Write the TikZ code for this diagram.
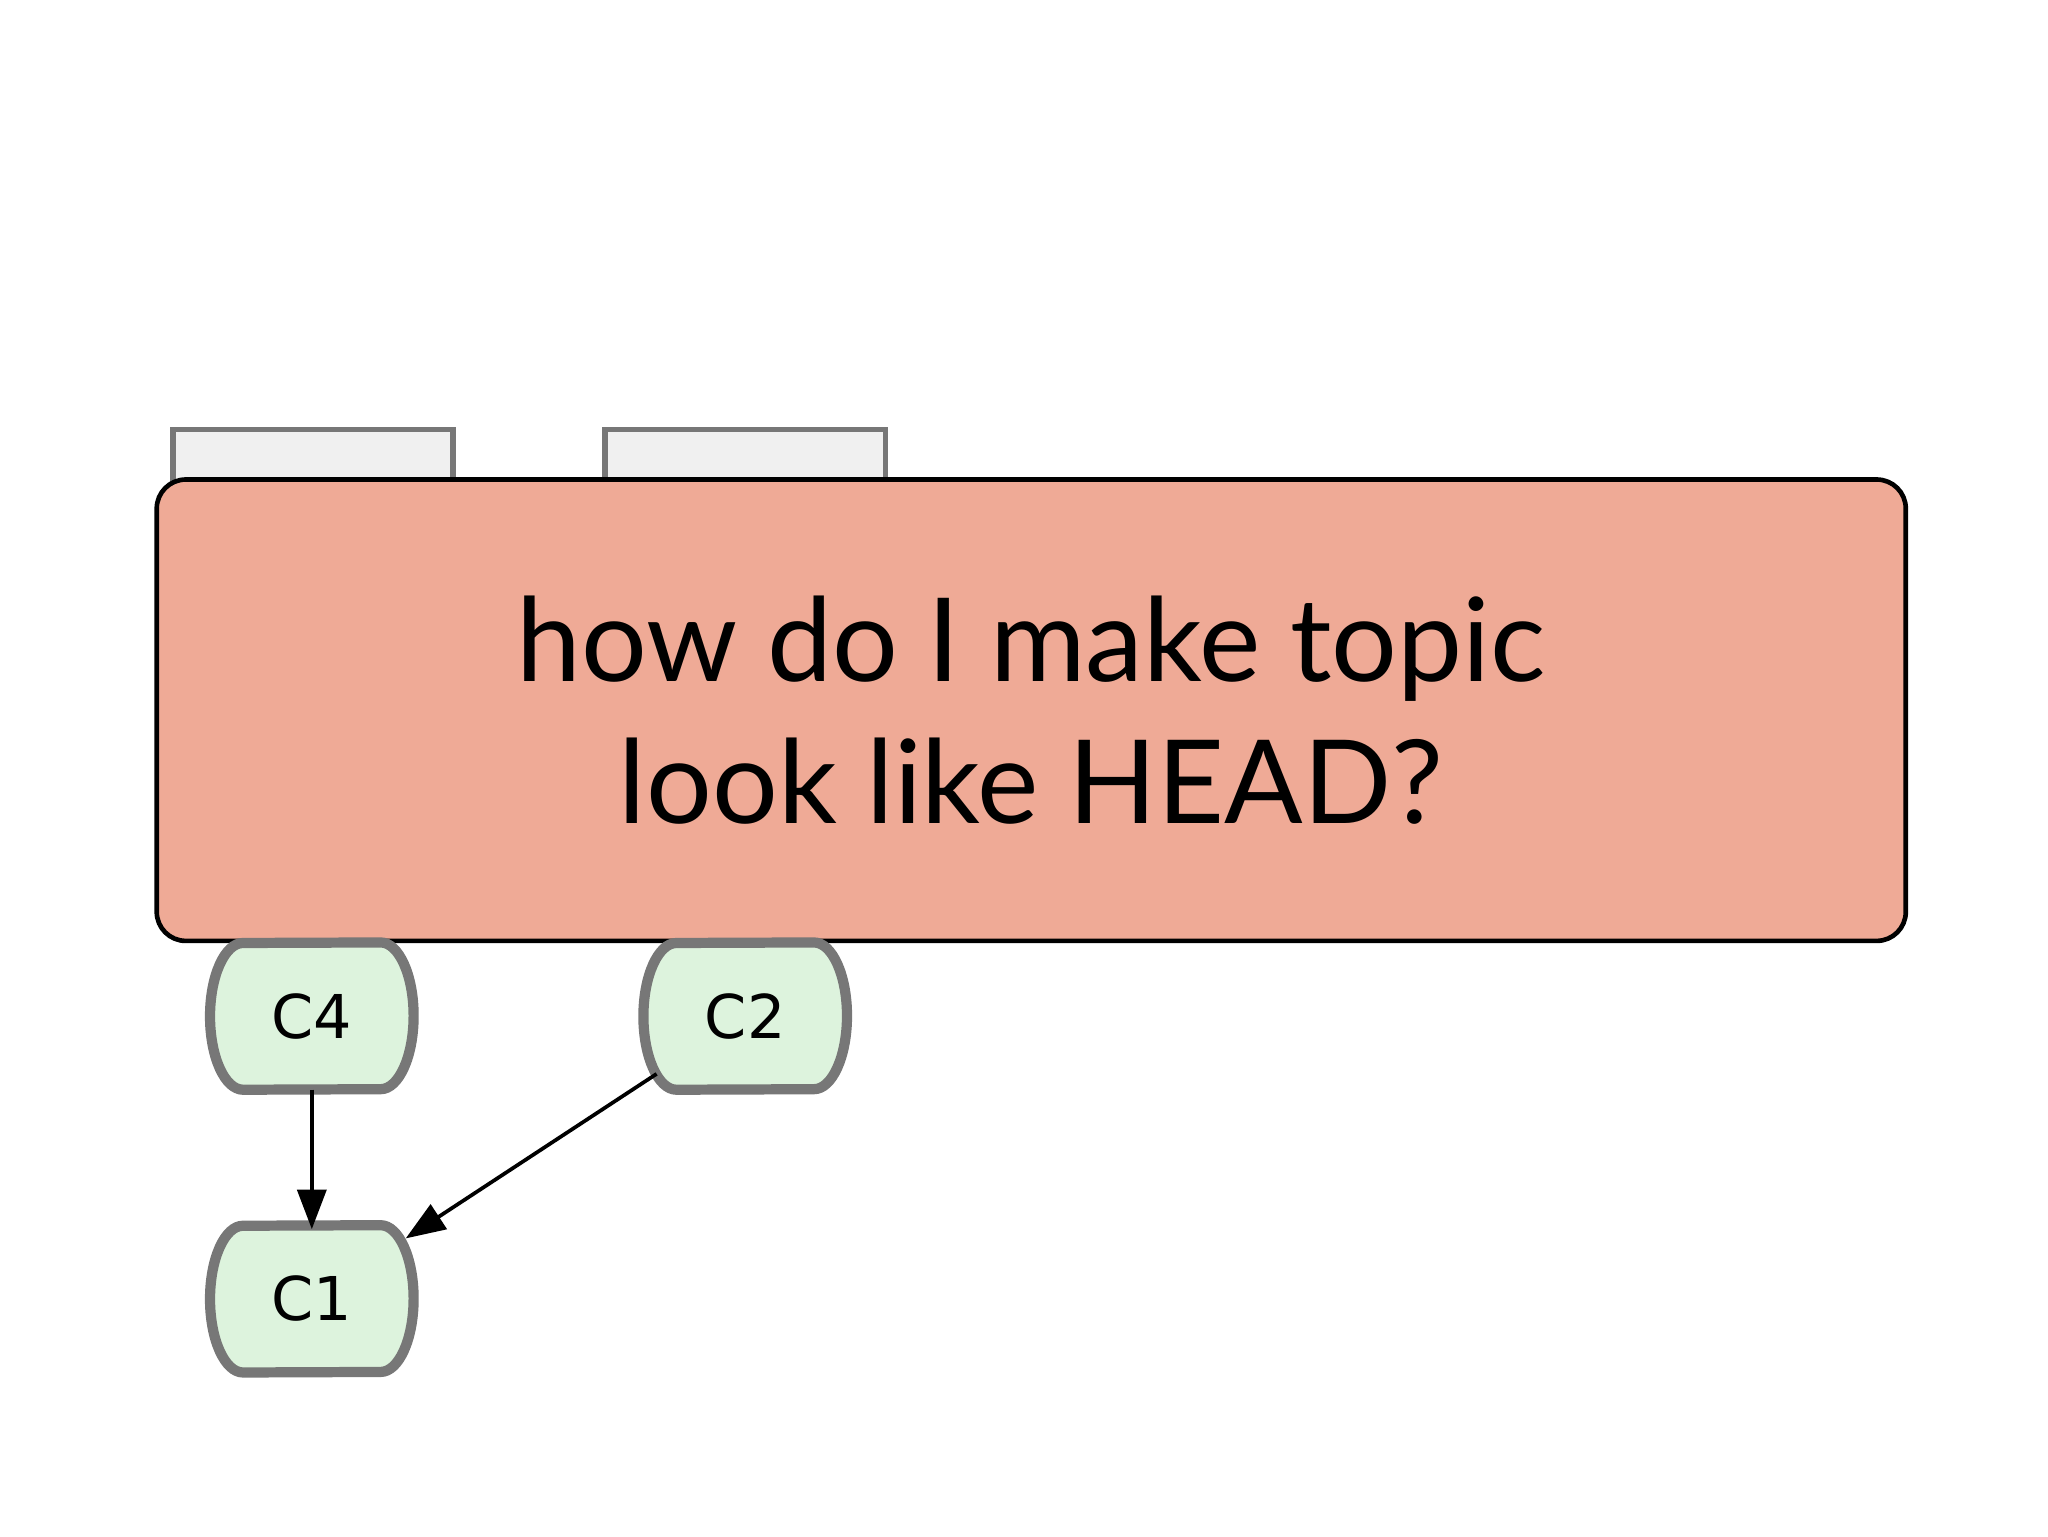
\documentclass[tikz,border=0pt]{standalone}
\usepackage{fontspec}
\setmainfont{Lato}
\setsansfont{DejaVu Sans}
\usetikzlibrary{arrows.meta}
\definecolor{salmon}{HTML}{EFAA96}
\definecolor{cgreen}{HTML}{DDF3DD}
\definecolor{cgray}{HTML}{777777}
\definecolor{tabfill}{HTML}{F0F0F0}
\tikzset{
  commit/.style={minimum width=1.5cm,minimum height=1.1cm,font=\sffamily\fontsize{13}{13}\selectfont},
  tab/.style={draw=cgray,line width=1.2pt,fill=tabfill},
  link/.style={line width=0.8pt,-{Triangle[length=0.3cm,width=0.22cm]}}
}
\newcommand{\cylshape}[1]{%
  \path[draw=cgray,line width=2.2pt,fill=cgreen]
    ([xshift=0.52cm]#1.north) arc[start angle=90,end angle=-90,x radius=0.25cm,y radius=0.555cm]
    -- ([xshift=-0.52cm]#1.south) arc[start angle=270,end angle=90,x radius=0.25cm,y radius=0.555cm] -- cycle;}
\begin{document}
\begin{tikzpicture}[x=0.01cm,y=-0.01cm]
\useasboundingbox (0,0) rectangle (1550,1162.5);
\node[tab,minimum width=2.12cm,minimum height=0.4cm,inner sep=0] (t1) at (237,345) {};
\node[tab,minimum width=2.12cm,minimum height=0.4cm,inner sep=0] (t2) at (564,345) {};
\node[draw=black,line width=1pt,fill=salmon,rounded corners=0.22cm,minimum width=13.23cm,minimum height=3.49cm,
  align=center,font=\fontsize{25}{30.7}\selectfont] (q) at (780.5,537.5) {how do I make topic\\look like HEAD?};
\node[commit] (c4) at (236,769) {};
\node[commit] (c2) at (564,769) {};
\node[commit] (c1) at (236,983) {};
\cylshape{c4}\cylshape{c2}\cylshape{c1}
\node[commit] at (c4) {C4};
\node[commit] at (c2) {C2};
\node[commit] at (c1) {C1};
\draw[link] (c4.south) -- ([yshift=-0.03cm]c1.north);
\draw[link] ([xshift=-0.67cm,yshift=0.12cm]c2.south) -- ([xshift=0.71cm,yshift=-0.1cm]c1.north);
\end{tikzpicture}
\end{document}
